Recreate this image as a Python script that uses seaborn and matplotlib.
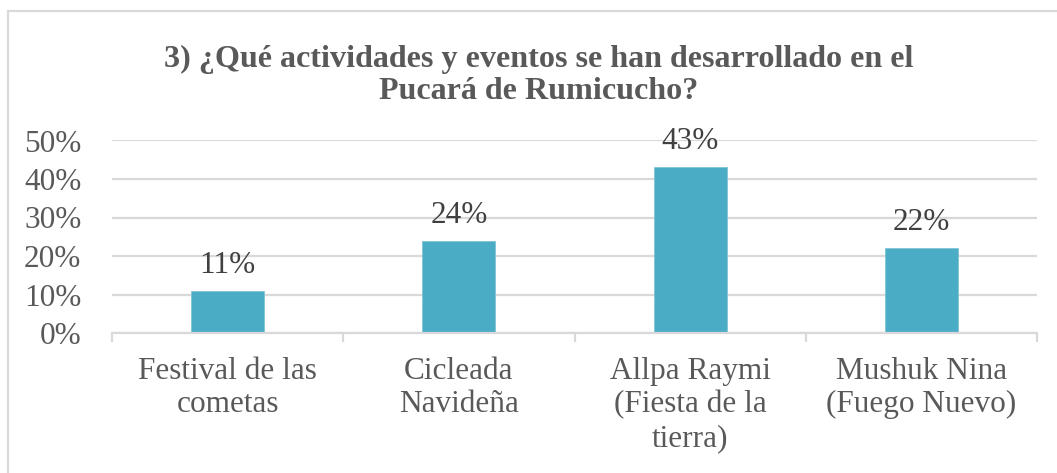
import matplotlib
matplotlib.use("Agg")
import matplotlib.pyplot as plt
import seaborn as sns
import pandas as pd
from matplotlib.patches import Rectangle
from matplotlib.ticker import FixedLocator, PercentFormatter

categories = ["Festival de las\ncometas", "Cicleada\nNavideña",
              "Allpa Raymi\n(Fiesta de la\ntierra)", "Mushuk Nina\n(Fuego Nuevo)"]
values = [11, 24, 43, 22]
value_labels = ["11%", "24%", "43%", "22%"]
yticks = [0, 10, 20, 30, 40, 50]
title = "3) ¿Qué actividades y eventos se han desarrollado en el\nPucará de Rumicucho?"

sns.set_theme(style="white")
plt.rcParams['font.family'] = ['Liberation Serif', 'DejaVu Serif']

df = pd.DataFrame({"cat": categories, "val": values})

W, H = 1057, 473
fig = plt.figure(figsize=(W / 100, H / 100), dpi=100)
ax = fig.add_axes([112 / W, 1 - 333 / H, (1037 - 112) / W, (333 - 140.5) / H])

sns.barplot(data=df, x="cat", y="val", color="#4BACC6", saturation=1,
            width=0.316, ax=ax, edgecolor="#7FC4D6", linewidth=0.6)

ax.set_ylim(0, 50)
ax.set_xlim(-0.5, 3.5)
ax.yaxis.set_major_locator(FixedLocator(yticks))
ax.yaxis.set_major_formatter(PercentFormatter(decimals=0))
ax.grid(axis="y", color="#D9D9D9", linewidth=1.6)
ax.set_axisbelow(True)
for s in ["top", "right", "left"]:
    ax.spines[s].set_visible(False)
ax.spines["bottom"].set_color("#D9D9D9")
ax.spines["bottom"].set_linewidth(1.6)
ax.set_xlabel("")
ax.set_ylabel("")

ax.tick_params(axis="y", length=0, pad=22, labelsize=22.5, labelcolor="#595959")
ax.tick_params(axis="x", which="major", length=0, pad=17, labelsize=22.5, labelcolor="#595959")
ax.set_xticks(range(len(categories)))
ax.set_xticklabels(categories, linespacing=1.2, va="top")
ax.set_xticks([-0.5, 0.5, 1.5, 2.5, 3.5], minor=True)
ax.tick_params(axis="x", which="minor", length=6.5, width=1.6, color="#D9D9D9", bottom=True)

for i, (v, lab) in enumerate(zip(values, value_labels)):
    ax.annotate(lab, (i, v), xytext=(0, 13), textcoords="offset points",
                ha="center", va="baseline", fontsize=22.5, color="#404040")

fig.text(539 / W, 1 - 99 / H, title, ha="center", va="baseline",
         fontsize=23.1, fontweight="bold", color="#595959", linespacing=1.15)

# Chart-area border
fig.add_artist(Rectangle((8 / W, -0.2), 1.2, 1 - 11 / H + 0.2,
                         transform=fig.transFigure, fill=False,
                         edgecolor="#D9D9D9", linewidth=1.6))

fig.savefig("out.png", dpi=100, facecolor="white")
